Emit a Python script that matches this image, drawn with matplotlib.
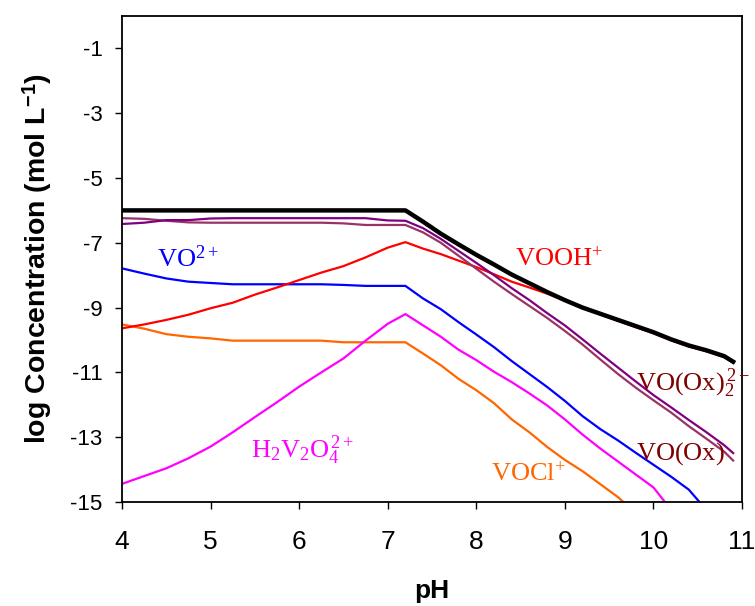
import matplotlib
matplotlib.use("Agg")
import matplotlib.pyplot as plt

plt.rcParams['font.family'] = ['Liberation Sans', 'DejaVu Sans']
plt.rcParams['axes.unicode_minus'] = False
plt.rcParams['mathtext.fontset'] = 'custom'
plt.rcParams['mathtext.rm'] = 'Liberation Serif'
plt.rcParams['mathtext.it'] = 'Liberation Serif:italic'
plt.rcParams['mathtext.bf'] = 'Liberation Sans:bold'

# pH grid shared by the species that run to the right edge
ph = [4.0, 4.25, 4.5, 4.75, 5.0, 5.25, 5.5, 5.75, 6.0, 6.25, 6.5, 6.75, 7.0, 7.2,
      7.4, 7.6, 7.8, 8.0, 8.2, 8.4, 8.6, 8.8, 9.0, 9.2, 9.4, 9.6, 9.8, 10.0,
      10.2, 10.4, 10.6, 10.8, 10.9]

total = [-6.0] * 14 + [-6.35, -6.72, -7.05, -7.37, -7.67, -7.98, -8.25, -8.52,
                       -8.77, -9.0, -9.19, -9.38, -9.57, -9.76, -9.98, -10.17,
                       -10.32, -10.5, -10.67]
vooh = [-9.64, -9.52, -9.38, -9.22, -9.02, -8.85, -8.6, -8.38, -8.15, -7.92,
        -7.72, -7.45, -7.15, -6.98, -7.18, -7.35, -7.55, -7.75, -7.97, -8.2,
        -8.38, -8.57, -8.78, -8.98, -9.21, -9.41, -9.6, -9.79, -10.01, -10.2,
        -10.35, -10.53, -10.7]
vo_ox2 = [-6.42, -6.38, -6.3, -6.3, -6.25, -6.24, -6.24, -6.24, -6.24, -6.24,
          -6.24, -6.24, -6.31, -6.32, -6.55, -6.88, -7.25, -7.62, -8.0, -8.4,
          -8.77, -9.17, -9.55, -9.98, -10.42, -10.85, -11.28, -11.7, -12.08,
          -12.47, -12.85, -13.25, -13.49]
vo_ox = [-6.24, -6.26, -6.32, -6.37, -6.38, -6.38, -6.38, -6.38, -6.38, -6.38,
         -6.4, -6.45, -6.45, -6.45, -6.68, -7.0, -7.4, -7.8, -8.2, -8.58, -8.95,
         -9.32, -9.72, -10.14, -10.6, -11.05, -11.47, -11.86, -12.24, -12.66,
         -13.05, -13.45, -13.72]

ph_vo = ph[:30] + [10.52]
vo = [-7.79, -7.95, -8.1, -8.2, -8.24, -8.28, -8.28, -8.28, -8.28, -8.28, -8.3,
      -8.33, -8.33, -8.33, -8.72, -9.05, -9.45, -9.83, -10.22, -10.65, -11.05,
      -11.45, -11.88, -12.35, -12.75, -13.1, -13.48, -13.85, -14.22, -14.62, -15.0]

ph_h2v2 = ph[:28] + [10.13]
h2v2o4 = [-14.44, -14.2, -13.96, -13.65, -13.29, -12.85, -12.38, -11.92, -11.44,
          -11.0, -10.57, -10.02, -9.5, -9.2, -9.55, -9.9, -10.3, -10.62, -10.98,
          -11.3, -11.65, -12.02, -12.45, -12.92, -13.35, -13.75, -14.15, -14.55,
          -15.0]

ph_vocl = ph[:26] + [9.66]
vocl = [-9.52, -9.65, -9.82, -9.9, -9.95, -10.02, -10.02, -10.02, -10.02, -10.02,
        -10.07, -10.07, -10.07, -10.07, -10.42, -10.78, -11.2, -11.55, -11.95,
        -12.45, -12.85, -13.3, -13.7, -14.05, -14.45, -14.85, -15.0]

fig = plt.figure(figsize=(7.55, 6.06), dpi=100)
ax = fig.add_axes([122 / 755, 104 / 606, 620 / 755, 486 / 606])

ax.plot(ph_vocl, vocl, color='#ff6600', lw=1.6)
ax.plot(ph_h2v2, h2v2o4, color='#ff00ff', lw=1.6)
ax.plot(ph_vo, vo, color='#0000ff', lw=1.6)
ax.plot(ph, vooh, color='#ff0000', lw=1.6)
ax.plot(ph, vo_ox, color='#993366', lw=1.6)
ax.plot(ph, vo_ox2, color='#800080', lw=1.6)
ax.plot(ph, total, color='black', lw=3.2)

lab = dict(fontsize=19, va='baseline', ha='left')
ax.text(4.4, -7.75, r'$\mathrm{VO^{2+}}$', color='#0000ff', **lab)
ax.text(8.44, -7.74, r'$\mathrm{VOOH^{+}}$', color='#ff0000', **lab)
ax.text(9.8, -11.56, r'$\mathrm{VO(Ox)_{2}^{\,2-}}$', color='#800000', **lab)
ax.text(9.8, -13.7, r'$\mathrm{VO(Ox)}$', color='#800000', **lab)
ax.text(8.17, -14.37, r'$\mathrm{VOCl^{+}}$', color='#ff6600', **lab)
ax.text(5.46, -13.65, r'$\mathrm{H_2V_2O_4^{\,2+}}$', color='#ff00ff', **lab)

ax.set_xlim(4, 11)
ax.set_ylim(-15, 0)
ax.set_xticks(range(4, 12))
ax.set_yticks(range(-15, 0, 2))
ax.tick_params(axis='x', direction='out', length=5, width=1, labelsize=19, pad=15)
ax.tick_params(axis='y', direction='out', length=5, width=1, labelsize=16, pad=9)
for sp in ax.spines.values():
    sp.set_linewidth(1.3)

ax.set_xlabel('pH', fontsize=19, fontweight='bold', labelpad=18)
ax.set_ylabel(r'log Concentration (mol L$^{\mathbf{-1}}$)', fontsize=20.5,
              fontweight='bold', labelpad=12)

fig.savefig('out.png', dpi=100)
